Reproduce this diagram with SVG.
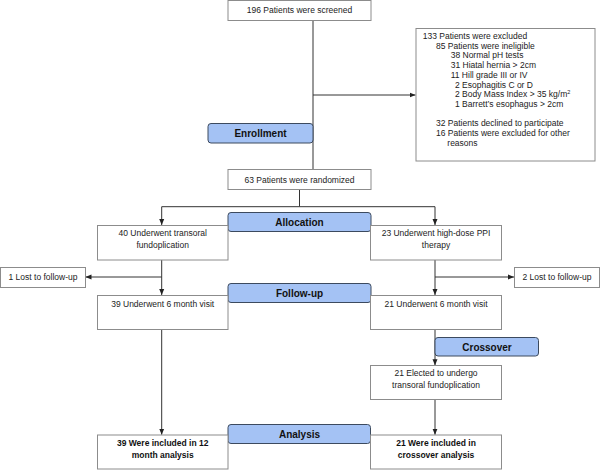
<svg xmlns="http://www.w3.org/2000/svg" width="600" height="470" viewBox="0 0 600 470">
<defs>
<style>
.box{fill:#fff;stroke:#8c8c8c;stroke-width:1}
.lab{fill:#a4c2f4;stroke:#3c4a5e;stroke-width:1}
.t{font-family:"Liberation Sans",Arial,sans-serif;font-size:8.5px;fill:#222}
.tc{text-anchor:middle}
.b{font-weight:bold;fill:#111}
.lt{font-family:"Liberation Sans",Arial,sans-serif;font-size:10px;font-weight:bold;fill:#111;text-anchor:middle}
.c{fill:none;stroke:#333;stroke-width:1}
</style>
<marker id="ah" viewBox="0 0 6 6" refX="6" refY="3" markerWidth="6" markerHeight="6" orient="auto" markerUnits="userSpaceOnUse">
<path d="M0,0.5 L6,3 L0,5.5 Z" fill="#222"/>
</marker>
</defs>
<rect width="600" height="470" fill="#fff"/>
<g id="connectors">
<line class="c" x1="313" y1="20" x2="313" y2="169"/>
<line class="c" x1="313" y1="95" x2="415.5" y2="95" marker-end="url(#ah)"/>
<path class="c" d="M299.5,189.5 V206.7 H161.7 V225" marker-end="url(#ah)"/>
<path class="c" d="M299.5,206.7 H435 V225" marker-end="url(#ah)"/>
<line class="c" x1="161.7" y1="260" x2="161.7" y2="295" marker-end="url(#ah)"/>
<line class="c" x1="161.7" y1="277" x2="85.5" y2="277" marker-end="url(#ah)"/>
<line class="c" x1="435" y1="260" x2="435" y2="295" marker-end="url(#ah)"/>
<line class="c" x1="435" y1="277" x2="514" y2="277" marker-end="url(#ah)"/>
<line class="c" x1="161.7" y1="329.5" x2="161.7" y2="434.7" marker-end="url(#ah)"/>
<line class="c" x1="435" y1="329.5" x2="435" y2="365.3" marker-end="url(#ah)"/>
<line class="c" x1="435" y1="399.5" x2="435" y2="434.7" marker-end="url(#ah)"/>
</g>
<g id="screened">
<rect class="box" x="228" y="0.5" width="143" height="20"/>
<text class="t tc" x="299.5" y="13">196 Patients were screened</text>
</g>
<g id="excluded">
<rect class="box" x="416" y="28.5" width="179" height="132.5"/>
<text class="t" x="422.7" y="39">133 Patients were excluded</text>
<text class="t" x="436" y="48.7">85 Patients were ineligible</text>
<text class="t" x="450.7" y="58.4">38 Normal pH tests</text>
<text class="t" x="450.7" y="68.1">31 Hiatal hernia &gt; 2cm</text>
<text class="t" x="450.7" y="77.8">11 Hill grade III or IV</text>
<text class="t" x="455" y="87.5">2 Esophagitis C or D</text>
<text class="t" x="455" y="97.2">2 Body Mass Index &gt; 35 kg/m<tspan font-size="5.5" dy="-3.5">2</tspan></text>
<text class="t" x="455" y="106.9">1 Barrett’s esophagus &gt; 2cm</text>
<text class="t" x="436" y="126.3">32 Patients declined to participate</text>
<text class="t" x="436" y="136">16 Patients were excluded for other</text>
<text class="t" x="447.3" y="145.7">reasons</text>
</g>
<g id="enrollment">
<rect class="lab" x="208" y="123.5" width="105" height="19.5" rx="3"/>
<text class="lt" x="260.5" y="137.3">Enrollment</text>
</g>
<g id="randomized">
<rect class="box" x="228" y="169.5" width="143" height="20"/>
<text class="t tc" x="299.5" y="182.5">63 Patients were randomized</text>
</g>
<g id="allocation">
<rect class="lab" x="228" y="212.5" width="143" height="19" rx="3"/>
<text class="lt" x="299.5" y="225.8">Allocation</text>
</g>
<g id="tif">
<rect class="box" x="97.5" y="225.5" width="130.5" height="34.5"/>
<text class="t tc" x="162.7" y="236.3">40 Underwent transoral</text>
<text class="t tc" x="162.7" y="247.8">fundoplication</text>
</g>
<g id="ppi">
<rect class="box" x="370.5" y="225.5" width="131" height="34.5"/>
<text class="t tc" x="436" y="236.3">23 Underwent high-dose PPI</text>
<text class="t tc" x="436" y="247.8">therapy</text>
</g>
<g id="lost1">
<rect class="box" x="0.5" y="267.5" width="85" height="20"/>
<text class="t tc" x="43" y="280.3">1 Lost to follow-up</text>
</g>
<g id="lost2">
<rect class="box" x="514.5" y="267.5" width="85" height="20"/>
<text class="t tc" x="557" y="280.3">2 Lost to follow-up</text>
</g>
<g id="followup">
<rect class="lab" x="228" y="283.5" width="143" height="19" rx="3"/>
<text class="lt" x="299.5" y="296.8">Follow-up</text>
</g>
<g id="visit1">
<rect class="box" x="97.5" y="295.5" width="130.5" height="34"/>
<text class="t tc" x="162.7" y="306.7">39 Underwent 6 month visit</text>
</g>
<g id="visit2">
<rect class="box" x="370.5" y="295.5" width="131" height="34"/>
<text class="t tc" x="436" y="306.7">21 Underwent 6 month visit</text>
</g>
<g id="crossover">
<rect class="lab" x="435" y="337.5" width="103.5" height="18.5" rx="3"/>
<text class="lt" x="487" y="350.5">Crossover</text>
</g>
<g id="elected">
<rect class="box" x="370.5" y="365.5" width="131" height="34"/>
<text class="t tc" x="436" y="376">21 Elected to undergo</text>
<text class="t tc" x="436" y="387.5">transoral fundoplication</text>
</g>
<g id="analysis">
<rect class="lab" x="228" y="424.5" width="142.5" height="19" rx="3"/>
<text class="lt" x="299.5" y="437.5">Analysis</text>
</g>
<g id="included1">
<rect class="box" x="97.5" y="435" width="130.5" height="34"/>
<text class="t tc b" x="162.7" y="446">39 Were included in 12</text>
<text class="t tc b" x="162.7" y="457.5">month analysis</text>
</g>
<g id="included2">
<rect class="box" x="370.5" y="435" width="131" height="34"/>
<text class="t tc b" x="436" y="446">21 Were included in</text>
<text class="t tc b" x="436" y="457.5">crossover analysis</text>
</g>
</svg>
